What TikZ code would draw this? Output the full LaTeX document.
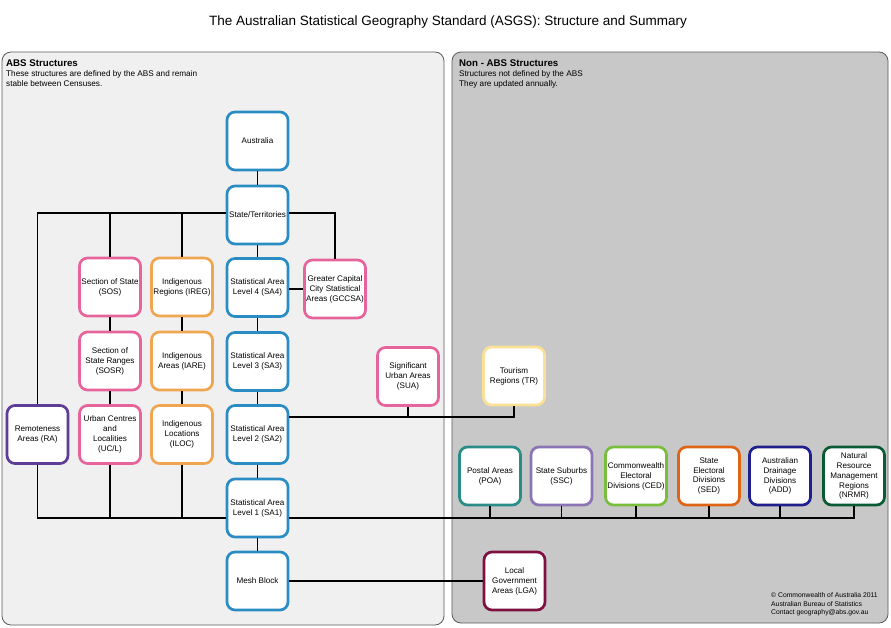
\documentclass[tikz,border=0pt]{standalone}
\usepackage{fontspec}
\setmainfont{Liberation Sans}
\usetikzlibrary{calc}
\definecolor{cblue}{RGB}{43,140,196}
\definecolor{cpink}{RGB}{230,100,155}
\definecolor{corange}{RGB}{240,165,80}
\definecolor{cpurple}{RGB}{95,60,150}
\definecolor{cyellow}{RGB}{250,225,150}
\definecolor{cteal}{RGB}{40,140,135}
\definecolor{clav}{RGB}{140,115,180}
\definecolor{cgreen}{RGB}{120,190,60}
\definecolor{cred}{RGB}{225,100,20}
\definecolor{cnavy}{RGB}{30,30,140}
\definecolor{cdkgreen}{RGB}{10,90,50}
\definecolor{cmaroon}{RGB}{125,15,65}
\definecolor{panelL}{RGB}{240,240,240}
\definecolor{panelR}{RGB}{200,200,200}
\definecolor{panelline}{RGB}{90,90,90}
\begin{document}
\begin{tikzpicture}[x=1pt,y=-1pt,
  box/.style={draw, line width=2.7pt, rounded corners=8pt, fill=white,
    minimum width=61pt, minimum height=58pt, inner sep=1pt, align=center,
    font=\fontsize{8.1}{9.9}\selectfont, text=black},
  link/.style={draw=black, line width=1.1pt},
  panel/.style={draw=panelline, line width=0.8pt, rounded corners=9pt},
  hdr/.style={anchor=base west, inner sep=0pt, font=\fontsize{9.7}{11}\selectfont\bfseries},
  sub/.style={anchor=base west, inner sep=0pt, font=\fontsize{8.2}{9.5}\selectfont},
  copy/.style={anchor=base west, inner sep=0pt, font=\fontsize{6.8}{8}\selectfont}]
\useasboundingbox (0,0) rectangle (891,627);
\fill[white] (0,0) rectangle (891,627);
% panels
\draw[panel, fill=panelL] (2,52) rectangle (444,625);
\draw[panel, fill=panelR] (452,52) rectangle (888,623);
% title
\node[inner sep=0pt, anchor=base, font=\fontsize{13.5}{15}\selectfont] (title) at (448,25) {The Australian Statistical Geography Standard (ASGS): Structure and Summary};
% headers
\node[hdr] (lh) at (6,66.5) {ABS Structures};
\node[sub] (ls1) at (6,76) {These structures are defined by the ABS and remain};
\node[sub] (ls2) at (6,86) {stable between Censuses.};
\node[hdr] (rh) at (459,66.5) {Non - ABS Structures};
\node[sub] (rs1) at (459,76) {Structures not defined by the ABS};
\node[sub] (rs2) at (459,86) {They are updated annually.};
% central column
\node[box, draw=cblue] (AUS) at (257.5,141) {Australia};
\node[box, draw=cblue] (ST) at (257.5,215) {State/Territories};
\node[box, draw=cblue] (SA4) at (257.5,287.5) {Statistical Area\\Level 4 (SA4)};
\node[box, draw=cblue] (SA3) at (257.5,361.5) {Statistical Area\\Level 3 (SA3)};
\node[box, draw=cblue] (SA2) at (257.5,434.5) {Statistical Area\\Level 2 (SA2)};
\node[box, draw=cblue] (SA1) at (257.5,508) {Statistical Area\\Level 1 (SA1)};
\node[box, draw=cblue] (MB) at (257.5,581) {Mesh Block};
% indigenous
\node[box, draw=corange] (IREG) at (182,287) {Indigenous\\Regions (IREG)};
\node[box, draw=corange] (IARE) at (182,361) {Indigenous\\Areas (IARE)};
\node[box, draw=corange] (ILOC) at (182,434.5) {Indigenous\\Locations\\(ILOC)};
% section of state
\node[box, draw=cpink] (SOS) at (110,287) {Section of State\\(SOS)};
\node[box, draw=cpink] (SOSR) at (110,361) {Section of\\State Ranges\\(SOSR)};
\node[box, draw=cpink] (UCL) at (110,434.5) {Urban Centres\\and\\Localities\\(UC/L)};
% others
\node[box, draw=cpurple] (RA) at (37.5,434.5) {Remoteness\\Areas (RA)};
\node[box, draw=cpink] (GCCSA) at (335,289) {Greater Capital\\City Statistical\\Areas (GCCSA)};
\node[box, draw=cpink] (SUA) at (408,376.5) {Significant\\Urban Areas\\(SUA)};
% non-ABS
\node[box, draw=cyellow] (TR) at (514,376) {Tourism\\Regions (TR)};
\node[box, draw=cteal] (POA) at (490,476) {Postal Areas\\(POA)};
\node[box, draw=clav] (SSC) at (561.5,476) {State Suburbs\\(SSC)};
\node[box, draw=cgreen] (CED) at (636,476) {Commonwealth\\Electoral\\Divisions (CED)};
\node[box, draw=cred] (SED) at (709,476) {State\\Electoral\\Divisions\\(SED)};
\node[box, draw=cnavy] (ADD) at (780,476) {Australian\\Drainage\\Divisions\\(ADD)};
\node[box, draw=cdkgreen] (NRMR) at (854,476) {Natural\\Resource\\Management\\Regions\\(NRMR)};
\node[box, draw=cmaroon] (LGA) at (514.5,581) {Local\\Government\\Areas (LGA)};
% copyright
\node[copy] (c1) at (771,597.5) {© Commonwealth of Australia 2011};
\node[copy] (c2) at (771,606) {Australian Bureau of Statistics};
\node[copy] (c3) at (771,614) {Contact geography@abs.gov.au};
% connectors
\coordinate (jst) at ([yshift=2pt]ST.west);
\coordinate (jste) at ([yshift=2pt]ST.east);
\coordinate (j2) at ([yshift=17.5pt]SA2.east);
\coordinate (j1l) at ([yshift=-10pt]SA1.west);
\coordinate (j1r) at ([yshift=-10pt]SA1.east);
\draw[link] (AUS) -- (ST);
\draw[link] (ST) -- (SA4);
\draw[link] (SA4) -- (SA3);
\draw[link] (SA3) -- (SA2);
\draw[link] (SA2) -- (SA1);
\draw[link] (SA1) -- (MB);
\draw[link] (RA.north) |- (jst);
\draw[link] (SOS.north) -- (SOS.north |- jst);
\draw[link] (IREG.north) -- (IREG.north |- jst);
\draw[link] (GCCSA.north) |- (jste);
\draw[link] (SOS) -- (SOSR);
\draw[link] (SOSR) -- (UCL);
\draw[link] (IREG) -- (IARE);
\draw[link] (IARE) -- (ILOC);
\draw[link] (SA4.east |- GCCSA.west) -- (GCCSA.west);
\draw[link] (j2) -| (TR.south);
\draw[link] (SUA.south) -- (SUA.south |- j2);
\draw[link] (RA.south) |- (j1l);
\draw[link] (UCL.south) -- (UCL.south |- j1l);
\draw[link] (ILOC.south) -- (ILOC.south |- j1l);
\draw[link] (j1r) -| (NRMR.south);
\draw[link] (POA.south) -- (POA.south |- j1r);
\draw[link] (SSC.south) -- (SSC.south |- j1r);
\draw[link] (CED.south) -- (CED.south |- j1r);
\draw[link] (SED.south) -- (SED.south |- j1r);
\draw[link] (ADD.south) -- (ADD.south |- j1r);
\draw[link] (MB.east |- LGA.west) -- (LGA.west);
\end{tikzpicture}
\end{document}
